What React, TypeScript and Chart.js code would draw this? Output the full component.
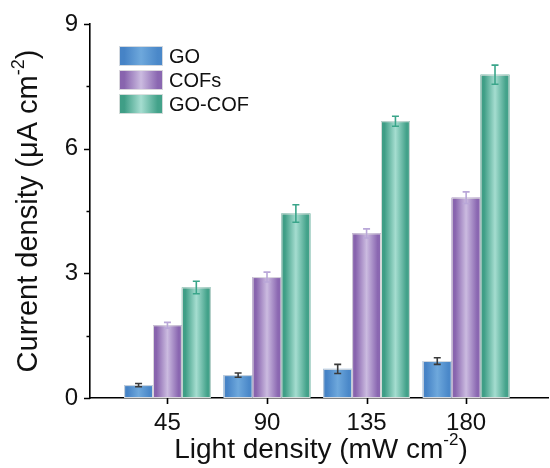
import React, { useEffect, useRef } from 'react';
import { Chart, registerables } from 'chart.js';
Chart.register(...registerables);

const categories = [45, 90, 135, 180];
const seriesNames = ['GO', 'COFs', 'GO-COF'];
const goValues = [0.31, 0.55, 0.7, 0.89];
const goErrors = [0.04, 0.05, 0.11, 0.08];
const cofValues = [1.75, 2.91, 3.96, 4.82];
const cofErrors = [0.07, 0.12, 0.11, 0.14];
const gocofValues = [2.66, 4.44, 6.66, 7.78];
const gocofErrors = [0.15, 0.21, 0.12, 0.23];
const yMajorTicks = [0, 3, 6, 9];
const yMinorTicks = [1.5, 4.5, 7.5];
const xTitle = ['Light density (mW cm', '-2', ')'];
const yTitle = ['Current density (\u03bcA cm', '-2', ')'];

const FONT = '"Liberation Sans", Arial, Helvetica, sans-serif';
const seriesValues = [goValues, cofValues, gocofValues];
const seriesErrors = [goErrors, cofErrors, gocofErrors];
const baseColors = ['#5a96d2', '#a68bc6', '#66bfa9'];
const gradStops = [
  ['#4683c6', '#6ea8dc', '#4a88c9'],
  ['#8864ae', '#cbbbe0', '#8a67b1'],
  ['#3f9e86', '#a5ddd0', '#43a28a'],
];
const errColors = ['#3a3a3a', '#b9a7d8', '#3aa58a'];

function makeGrad(ctx: CanvasRenderingContext2D, x0: number, x1: number, stops: string[]) {
  const g = ctx.createLinearGradient(x0, 0, x1, 0);
  g.addColorStop(0, stops[0]);
  g.addColorStop(0.12, stops[0]);
  g.addColorStop(0.5, stops[1]);
  g.addColorStop(0.88, stops[2]);
  g.addColorStop(1, stops[2]);
  return g;
}

function drawRich(ctx: CanvasRenderingContext2D, parts: string[], cx: number, baseline: number, size: number) {
  const supSize = Math.round(size * 0.62);
  ctx.textBaseline = 'alphabetic';
  ctx.textAlign = 'left';
  ctx.font = `${size}px ${FONT}`;
  const w0 = ctx.measureText(parts[0]).width;
  const w2 = ctx.measureText(parts[2]).width;
  ctx.font = `${supSize}px ${FONT}`;
  const w1 = ctx.measureText(parts[1]).width;
  let x = cx - (w0 + w1 + w2) / 2;
  ctx.font = `${size}px ${FONT}`;
  ctx.fillText(parts[0], x, baseline);
  x += w0;
  ctx.font = `${supSize}px ${FONT}`;
  ctx.fillText(parts[1], x, baseline - size * 0.46);
  x += w1;
  ctx.font = `${size}px ${FONT}`;
  ctx.fillText(parts[2], x, baseline);
}

const decorPlugin = {
  id: 'decor',
  afterDatasetsDraw(chart: any) {
    const ctx: CanvasRenderingContext2D = chart.ctx;
    const yScale = chart.scales.y;
    ctx.save();
    chart.data.datasets.forEach((ds: any, di: number) => {
      const meta = chart.getDatasetMeta(di);
      meta.data.forEach((el: any) => {
        const { x, y, base, width } = el.getProps(['x', 'y', 'base', 'width'], true);
        const x0 = x - width / 2;
        ctx.fillStyle = makeGrad(ctx, x0, x0 + width, gradStops[di]);
        ctx.fillRect(x0, y, width, base - y);
        ctx.strokeStyle = 'rgba(225,225,225,0.9)';
        ctx.lineWidth = 1;
        ctx.strokeRect(x0 + 0.5, y + 0.5, width - 1, base - y - 1);
      });
    });
    chart.data.datasets.forEach((ds: any, di: number) => {
      const meta = chart.getDatasetMeta(di);
      meta.data.forEach((el: any, i: number) => {
        const { x } = el.getProps(['x'], true);
        const v = seriesValues[di][i];
        const e = seriesErrors[di][i];
        const yTop = yScale.getPixelForValue(v + e);
        const yBot = yScale.getPixelForValue(v - e);
        ctx.strokeStyle = errColors[di];
        ctx.lineWidth = 1.6;
        ctx.beginPath();
        ctx.moveTo(x, yTop);
        ctx.lineTo(x, yBot);
        ctx.moveTo(x - 3.5, yTop);
        ctx.lineTo(x + 3.5, yTop);
        ctx.moveTo(x - 3.5, yBot);
        ctx.lineTo(x + 3.5, yBot);
        ctx.stroke();
      });
    });
    ctx.restore();
  },
  afterDraw(chart: any) {
    const ctx: CanvasRenderingContext2D = chart.ctx;
    const { left, bottom, top, right } = chart.chartArea;
    const yScale = chart.scales.y;
    const xScale = chart.scales.x;
    ctx.save();
    ctx.strokeStyle = '#000';
    ctx.lineWidth = 1.6;
    ctx.beginPath();
    yMajorTicks.forEach((v) => {
      const py = Math.round(yScale.getPixelForValue(v)) + 0.5;
      ctx.moveTo(left - 6, py);
      ctx.lineTo(left, py);
    });
    yMinorTicks.forEach((v) => {
      const py = Math.round(yScale.getPixelForValue(v)) + 0.5;
      ctx.moveTo(left - 3.5, py);
      ctx.lineTo(left, py);
    });
    categories.forEach((c) => {
      const px = Math.round(xScale.getPixelForValue(c)) + 0.5;
      ctx.moveTo(px, bottom);
      ctx.lineTo(px, bottom + 6);
    });
    ctx.stroke();

    ctx.fillStyle = '#111';
    drawRich(ctx, xTitle, (left + right) / 2 + 2, 458, 28);
    ctx.save();
    ctx.translate(37, (top + bottom) / 2);
    ctx.rotate(-Math.PI / 2);
    drawRich(ctx, yTitle, 0, 0, 29);
    ctx.restore();

    const boxX = 119;
    const boxW = 44;
    const boxH = 20;
    const rowTops = [46, 70, 94];
    seriesNames.forEach((name, i) => {
      const yTop = rowTops[i];
      ctx.fillStyle = makeGrad(ctx, boxX, boxX + boxW, gradStops[i]);
      ctx.fillRect(boxX, yTop, boxW, boxH);
      ctx.strokeStyle = 'rgba(225,225,225,0.9)';
      ctx.lineWidth = 1;
      ctx.strokeRect(boxX + 0.5, yTop + 0.5, boxW - 1, boxH - 1);
      ctx.fillStyle = '#111';
      ctx.font = `20px ${FONT}`;
      ctx.textAlign = 'left';
      ctx.textBaseline = 'middle';
      ctx.fillText(name, 169, yTop + boxH / 2 + 1);
    });
    ctx.restore();
  },
};

export default function App() {
  const canvasRef = useRef<HTMLCanvasElement | null>(null);
  useEffect(() => {
    if (!canvasRef.current) return;
    const chart = new Chart(canvasRef.current, {
      type: 'bar',
      data: {
        datasets: seriesNames.map((name, di) => ({
          label: name,
          data: categories.map((c, i) => ({ x: c, y: seriesValues[di][i] })),
          backgroundColor: baseColors[di],
          borderWidth: 0,
          categoryPercentage: 0.87,
          barPercentage: 1.0,
        })),
      },
      options: {
        animation: false,
        responsive: false,
        maintainAspectRatio: false,
        layout: { padding: { top: 24, right: 2, left: 0, bottom: 0 } },
        plugins: { legend: { display: false }, tooltip: { enabled: false } },
        scales: {
          x: {
            type: 'linear',
            offset: false,
            min: 10,
            max: 217,
            grid: { display: false, offset: false },
            border: { display: true, color: '#000', width: 1.6 },
            afterBuildTicks: (scale: any) => {
              scale.ticks = categories.map((v) => ({ value: v }));
            },
            afterFit: (scale: any) => {
              scale.height = 70;
            },
            ticks: {
              autoSkip: false,
              maxRotation: 0,
              padding: 3,
              color: '#111',
              font: { family: FONT, size: 24 },
              callback: (v: any) => String(v),
            },
          },
          y: {
            min: 0,
            max: 9,
            grid: { display: false },
            border: { display: true, color: '#000', width: 1.6 },
            afterBuildTicks: (scale: any) => {
              scale.ticks = yMajorTicks.map((v) => ({ value: v }));
            },
            afterFit: (scale: any) => {
              scale.width = 90;
            },
            ticks: {
              padding: 4,
              color: '#111',
              font: { family: FONT, size: 24 },
              callback: (v: any) => String(v),
            },
          },
        },
      },
      plugins: [decorPlugin],
    } as any);
    return () => chart.destroy();
  }, []);
  return (
    <div style={{ position: 'fixed', left: 0, top: 0, width: 550, height: 468, background: '#fff' }}>
      <canvas ref={canvasRef} width={550} height={468} style={{ width: 550, height: 468 }} />
    </div>
  );
}
